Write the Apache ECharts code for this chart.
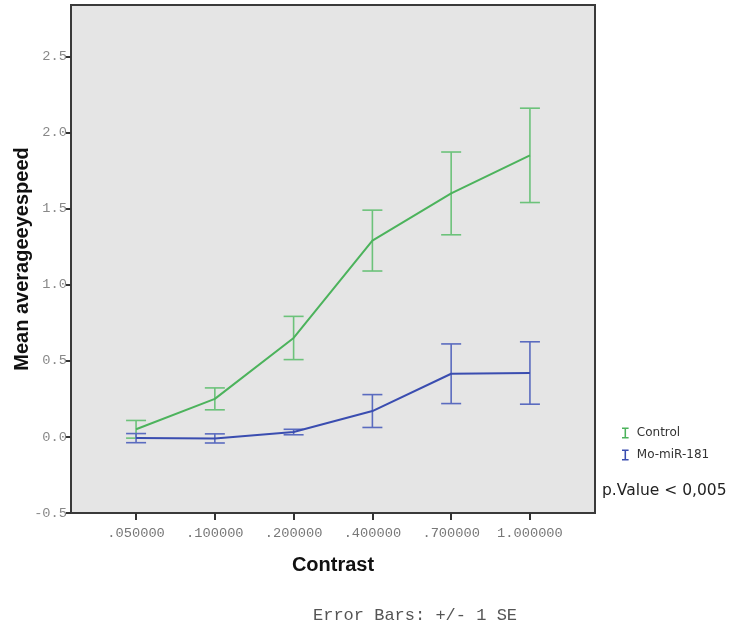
<!DOCTYPE html>
<html>
<head>
<meta charset="utf-8">
<script src="https://cdn.jsdelivr.net/npm/echarts@6/dist/echarts.min.js"></script>
<style>html,body{margin:0;padding:0;background:#fff}#c{width:729px;height:628px}</style>
</head>
<body>
<div id="c"></div>
<script>
const categories = ['.050000', '.100000', '.200000', '.400000', '.700000', '1.000000'];
const controlMean = [0.05, 0.25, 0.65, 1.29, 1.60, 1.85];
const controlSE   = [0.058, 0.072, 0.142, 0.20, 0.272, 0.31];
const moMean      = [-0.008, -0.01, 0.032, 0.17, 0.415, 0.42];
const moSE        = [0.03, 0.03, 0.018, 0.108, 0.196, 0.205];
const yTicks = [-0.5, 0.0, 0.5, 1.0, 1.5, 2.0, 2.5];

const green = '#4cb35c', greenBar = '#6cc27a';
const blue = '#3a4db0', blueBar = '#5a6bbf';
const idx = categories.map((c, i) => i);

function lineData(means) { return means.map((m, i) => [i, m]); }
function barData(means, se) { return means.map((m, i) => [i, m - se[i], m + se[i]]); }
function errRender(color) {
  return function (params, api) {
    const x = api.value(0);
    const lo = api.coord([x, api.value(1)]);
    const hi = api.coord([x, api.value(2)]);
    const hw = 10;
    const st = { stroke: color, lineWidth: 1.6 };
    return { type: 'group', children: [
      { type: 'line', shape: { x1: lo[0], y1: lo[1], x2: hi[0], y2: hi[1] }, style: st },
      { type: 'line', shape: { x1: hi[0] - hw, y1: hi[1], x2: hi[0] + hw, y2: hi[1] }, style: st },
      { type: 'line', shape: { x1: lo[0] - hw, y1: lo[1], x2: lo[0] + hw, y2: lo[1] }, style: st }
    ]};
  };
}
const ibeam = 'path://M0,0L6,0L6,1.3L3.7,1.3L3.7,8.7L6,8.7L6,10L0,10L0,8.7L2.3,8.7L2.3,1.3L0,1.3Z';

const chart = echarts.init(document.getElementById('c'), null, { renderer: 'canvas' });
chart.setOption({
  animation: false,
  backgroundColor: '#ffffff',
  grid: { left: 71, top: 5, right: 134, bottom: 115, containLabel: false, outerBoundsMode: 'none',
    show: true, backgroundColor: '#e5e5e5', borderColor: '#3a3a3a', borderWidth: 2 },
  xAxis: {
    type: 'value', min: -0.826, max: 5.826,
    name: 'Contrast', nameLocation: 'middle', nameGap: 42, nameMoveOverlap: false,
    nameTextStyle: { fontFamily: 'Liberation Sans', fontWeight: 'bold', fontSize: 20, color: '#111' },
    axisLine: { show: true, onZero: false, lineStyle: { color: '#3a3a3a', width: 2 } },
    splitLine: { show: false },
    axisTick: { show: true, length: 7, customValues: idx, lineStyle: { color: '#333', width: 2 } },
    axisLabel: { customValues: idx, margin: 13, formatter: v => categories[Math.round(v)],
      fontFamily: 'Liberation Mono', fontSize: 13.7, color: '#777' }
  },
  yAxis: {
    type: 'value', min: -0.5, max: 2.838,
    name: 'Mean averageeyespeed', nameLocation: 'middle', nameGap: 39, nameMoveOverlap: false,
    nameTextStyle: { fontFamily: 'Liberation Sans', fontWeight: 'bold', fontSize: 20, color: '#111' },
    axisLine: { show: true, onZero: false, lineStyle: { color: '#3a3a3a', width: 2 } },
    splitLine: { show: false },
    axisTick: { show: true, length: 5, customValues: yTicks, lineStyle: { color: '#333', width: 2 } },
    axisLabel: { customValues: yTicks, margin: 4, formatter: v => v.toFixed(1),
      fontFamily: 'Liberation Mono', fontSize: 13.7, color: '#888' }
  },
  legend: {
    orient: 'vertical', left: 617, top: 422, itemGap: 10, itemWidth: 7, itemHeight: 11,
    itemStyle: { borderWidth: 0 },
    textStyle: { fontFamily: 'DejaVu Sans', fontSize: 12, color: '#333', padding: [0, 0, 0, 3] },
    data: [
      { name: 'Control', icon: ibeam, itemStyle: { color: green } },
      { name: 'Mo-miR-181', icon: ibeam, itemStyle: { color: blue } }
    ]
  },
  title: {
    text: 'Error Bars: +/- 1 SE', left: 308, top: 602,
    textStyle: { fontFamily: 'Liberation Mono', fontSize: 17, fontWeight: 'normal', color: '#555' }
  },
  graphic: [
    { type: 'text', left: 602, top: 483, style: { text: 'p.Value < 0,005', font: '15.5px "DejaVu Sans"', fill: '#222' } }
  ],
  series: [
    { name: 'Control', type: 'custom', renderItem: errRender(greenBar), data: barData(controlMean, controlSE), z: 2, silent: true },
    { name: 'Mo-miR-181', type: 'custom', renderItem: errRender(blueBar), data: barData(moMean, moSE), z: 2, silent: true },
    { name: 'Control', type: 'line', data: lineData(controlMean), symbol: 'none', color: green, lineStyle: { color: green, width: 2 }, z: 3 },
    { name: 'Mo-miR-181', type: 'line', data: lineData(moMean), symbol: 'none', color: blue, lineStyle: { color: blue, width: 2 }, z: 3 }
  ]
});
</script>
</body>
</html>
